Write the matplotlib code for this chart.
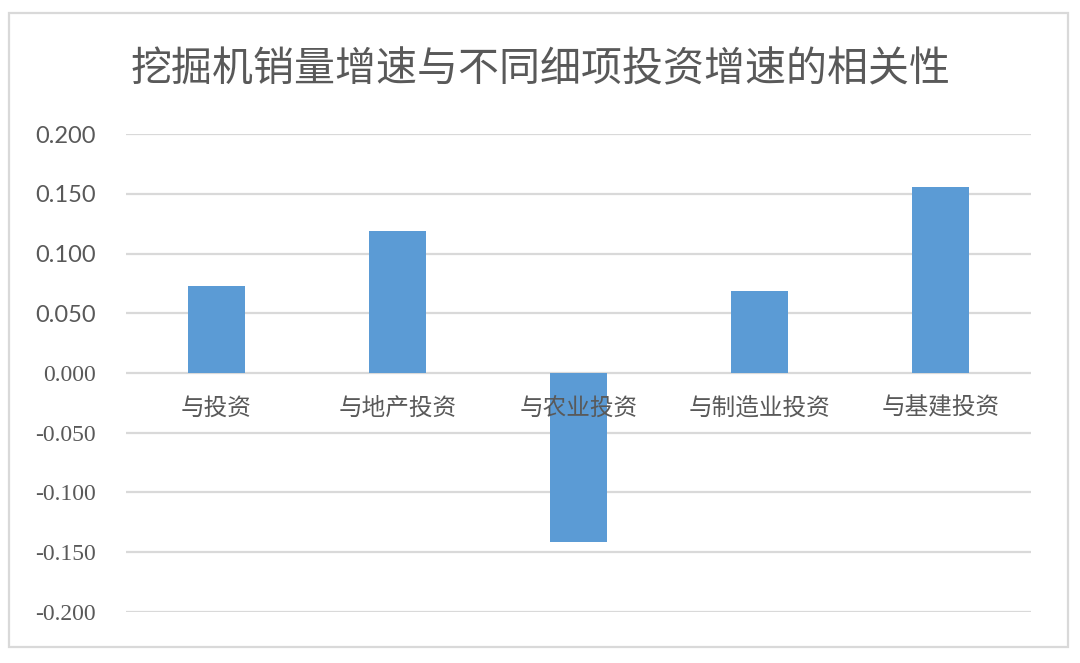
import matplotlib
matplotlib.use("Agg")
import matplotlib.pyplot as plt
from matplotlib.patches import Rectangle

categories = ["与投资", "与地产投资", "与农业投资", "与制造业投资", "与基建投资"]
values = [0.073, 0.119, -0.142, 0.069, 0.156]
yticks = [0.200, 0.150, 0.100, 0.050, 0.000, -0.050, -0.100, -0.150, -0.200]

cjk = ["Noto Sans CJK SC", "DejaVu Sans"]
txt_col = "#595959"
grid_col = "#d9d9d9"

fig = plt.figure(figsize=(10.8, 6.63), dpi=100)
ax = fig.add_axes([0.1167, 0.0775, 0.838, 0.720])

x = list(range(len(categories)))
ax.bar(x, values, width=0.315, color="#5b9bd5", zorder=2)

# x labels sit next to the zero line, like excel does it
ax.spines["bottom"].set_position(("data", 0))
for s in ax.spines.values():
    s.set_visible(False)

ax.set_xlim(-0.5, len(categories) - 0.5)
ax.set_ylim(-0.2, 0.2)
ax.set_yticks(yticks)
ax.set_yticklabels(["%.3f" % v for v in yticks])
ax.yaxis.grid(True, color=grid_col, linewidth=1.6)
ax.tick_params(axis="y", length=0, pad=22, labelcolor=txt_col, labelsize=17)
for lab, v in zip(ax.get_yticklabels(), yticks):
    if v > 0:
        lab.set_fontfamily("Lato")
    else:
        lab.set_fontfamily("Liberation Serif")

ax.set_xticks(x)
ax.set_xticklabels(categories, fontfamily=cjk, fontsize=17, color=txt_col)
ax.tick_params(axis="x", length=0, pad=17)
ax.set_axisbelow(True)
ax.xaxis.set_zorder(4)

fig.text(0.5, 0.894, "挖掘机销量增速与不同细项投资增速的相关性", ha="center", va="center",
         fontsize=29.5, color=txt_col, fontfamily=cjk)

fig.patches.append(Rectangle((9 / 1080, 1 - 647 / 663), 1059 / 1080, 634 / 663,
                             transform=fig.transFigure, fill=False,
                             edgecolor=grid_col, linewidth=1.6))

fig.savefig("out.png", dpi=100)
